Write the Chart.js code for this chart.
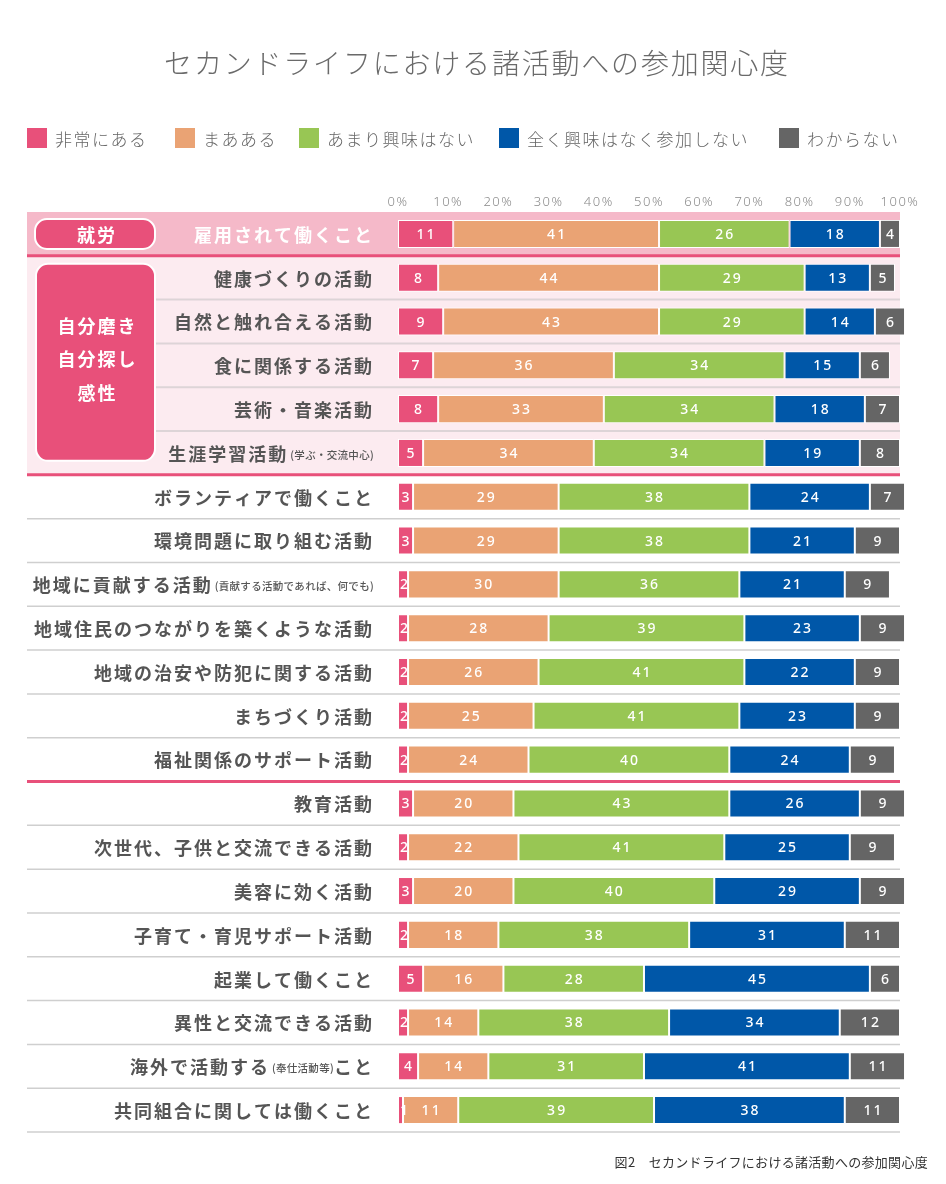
<!DOCTYPE html>
<html><head><meta charset="utf-8">
<script src="https://cdn.jsdelivr.net/npm/chart.js@4.4.1/dist/chart.umd.min.js"></script>
<style>
html,body{margin:0;padding:0;background:#fff;}
#wrap{position:relative;width:946px;height:1184px;overflow:hidden;font-family:"Noto Sans CJK JP","Noto Sans",sans-serif;}
#title{position:absolute;left:4px;width:946px;top:40px;text-align:center;font-size:28px;font-weight:300;color:#6a6a6a;letter-spacing:1.8px;line-height:44px;white-space:nowrap;}
.lg{position:absolute;top:126px;height:24px;display:flex;align-items:center;font-size:17px;color:#666;letter-spacing:1.5px;font-weight:300;white-space:nowrap;}
.lg i{display:inline-block;width:20px;height:20px;margin-right:8px;flex:none;}
#cap{position:absolute;right:18px;top:1152px;font-size:13px;color:#333;letter-spacing:0.3px;white-space:nowrap;}
#cv{position:absolute;left:0;top:0;width:946px;height:1184px;}
</style></head><body>
<div id="wrap">
<div id="cv"><canvas id="c"></canvas></div>
<div id="title">セカンドライフにおける諸活動への参加関心度</div>
<div id="legend"></div>
<div id="cap">図2　セカンドライフにおける諸活動への参加関心度</div>
</div>
<script>
// ---- data ----
const categories = [
  '雇用されて働くこと',
  '健康づくりの活動',
  '自然と触れ合える活動',
  '食に関係する活動',
  '芸術・音楽活動',
  '生涯学習活動(学ぶ・交流中心)',
  'ボランティアで働くこと',
  '環境問題に取り組む活動',
  '地域に貢献する活動(貢献する活動であれば、何でも)',
  '地域住民のつながりを築くような活動',
  '地域の治安や防犯に関する活動',
  'まちづくり活動',
  '福祉関係のサポート活動',
  '教育活動',
  '次世代、子供と交流できる活動',
  '美容に効く活動',
  '子育て・育児サポート活動',
  '起業して働くこと',
  '異性と交流できる活動',
  '海外で活動する(奉仕活動等)こと',
  '共同組合に関しては働くこと'
];
const seriesNames = ['非常にある','まあある','あまり興味はない','全く興味はなく参加しない','わからない'];
const veryInterested = [11, 8, 9, 7, 8, 5, 3, 3, 2, 2, 2, 2, 2, 3, 2, 3, 2, 5, 2, 4, 1];
const somewhat       = [41,44,43,36,33,34,29,29,30,28,26,25,24,20,22,20,18,16,14,14,11];
const notMuch        = [26,29,29,34,34,34,38,38,36,39,41,41,40,43,41,40,38,28,38,31,39];
const notAtAll       = [18,13,14,15,18,19,24,21,21,23,22,23,24,26,25,29,31,45,34,41,38];
const dontKnow       = [ 4, 5, 6, 6, 7, 8, 7, 9, 9, 9, 9, 9, 9, 9, 9, 9,11, 6,12,11,11];
const groupLabels = [['就労'], ['自分磨き','自分探し','感性']];

// ---- style ----
const colors = ['#E8507A','#EAA374','#98C654','#0057A8','#656565'];
const legendLefts = [27,175,299,499,779];
const PINK = '#E8507A';

const lg = document.getElementById('legend');
seriesNames.forEach((n,i)=>{
  const d = document.createElement('div');
  d.className='lg'; d.style.left = legendLefts[i]+'px';
  d.innerHTML = '<i style="background:'+colors[i]+'"></i><span></span>';
  d.querySelector('span').textContent = n;
  lg.appendChild(d);
});

const seriesData = [veryInterested, somewhat, notMuch, notAtAll, dontKnow];

function rowInfo(chart){
  const y = chart.scales.y;
  const c0 = y.getPixelForValue(0), c1 = y.getPixelForValue(1);
  const h = c1 - c0;
  return {h, center:i=>y.getPixelForValue(i), top:i=>y.getPixelForValue(i)-h/2};
}
function hline(ctx,x1,x2,y,color,w){
  ctx.beginPath(); ctx.strokeStyle=color; ctx.lineWidth=w;
  ctx.moveTo(x1,y); ctx.lineTo(x2,y); ctx.stroke();
}
const L = 27, R = 900;

const bgPlugin = {
  id:'bg',
  beforeDraw(chart){
    const ctx = chart.ctx, r = rowInfo(chart);
    ctx.save();
    ctx.fillStyle = '#F5B9C9';
    ctx.fillRect(L, r.top(0), R-L, r.h);
    ctx.fillStyle = '#FCEBF0';
    ctx.fillRect(L, r.top(1), R-L, r.h*5);
    for(let i=2;i<=5;i++) hline(ctx,155,R,r.top(i),'#DDD4D7',2);
    for(let i=7;i<=12;i++) hline(ctx,L,R,r.top(i),'#CFCFCF',1.5);
    for(let i=14;i<=20;i++) hline(ctx,L,R,r.top(i),'#CFCFCF',1.5);
    hline(ctx,L,R,r.top(20)+r.h,'#CFCFCF',1.5);
    [1,6,13].forEach(i=>hline(ctx,L,R,r.top(i),PINK,3));
    ctx.restore();
    ctx.letterSpacing = '1.5px';
  }
};

function drawLabel(ctx, text, xRight, y, color){
  const parts = text.split(/(\([^)]*\))/).filter(s=>s.length);
  let x = xRight;
  ctx.fillStyle = color;
  ctx.textBaseline = 'middle';
  ctx.textAlign = 'left';
  for(let k=parts.length-1;k>=0;k--){
    const p = parts[k];
    const small = p.startsWith('(');
    ctx.font = small ? '500 10.5px "Noto Sans CJK JP"' : 'bold 18px "Noto Sans CJK JP"';
    ctx.letterSpacing = small ? '0.3px' : '2px';
    const w = ctx.measureText(p).width;
    x -= w;
    ctx.fillText(p, x, small ? y+1 : y);
    if(small) x -= 2;
  }
}

const fgPlugin = {
  id:'fg',
  afterDatasetsDraw(chart){
    const ctx = chart.ctx, r = rowInfo(chart);
    ctx.save();
    // value labels
    ctx.fillStyle = '#fff';
    ctx.font = '500 14px "Noto Sans", "DejaVu Sans", sans-serif';
    ctx.letterSpacing = '2px';
    ctx.textBaseline = 'middle';
    ctx.textAlign = 'left';
    chart.data.datasets.forEach((ds,di)=>{
      chart.getDatasetMeta(di).data.forEach((bar,j)=>{
        const p = bar.getProps(['x','base','y'],true);
        const t = String(ds.data[j]);
        const w = ctx.measureText(t).width - 2;
        const cx = (p.x + p.base)/2;
        const segW = Math.abs(p.x - p.base);
        const tx = (w + 4 > segW) ? Math.min(p.x, p.base) + 2 : cx - w/2;
        ctx.fillText(t, tx, p.y+1);
      });
    });
    // category labels
    categories.forEach((c,i)=>drawLabel(ctx, c, 374, r.center(i)+1, i===0 ? '#ffffff' : '#555555'));
    // group boxes
    ctx.letterSpacing = '2px';
    const boxes = [
      {x:35, y:r.center(0)-15, w:120, h:30, rad:12, lines:groupLabels[0], off:0},
      {x:36, y:r.top(1)+8, w:119, h:r.h*5-22, rad:12, lines:groupLabels[1], off:-4}
    ];
    boxes.forEach(b=>{
      ctx.beginPath();
      ctx.roundRect(b.x,b.y,b.w,b.h,b.rad);
      ctx.fillStyle = PINK; ctx.fill();
      ctx.lineWidth = 2; ctx.strokeStyle = '#fff'; ctx.stroke();
      ctx.fillStyle = '#fff';
      ctx.font = 'bold 18px "Noto Sans CJK JP"';
      ctx.textAlign='left';
      const n = b.lines.length, lh = 33.5;
      const cy = b.y + b.h/2 + b.off;
      b.lines.forEach((t,k)=>{
        const w = ctx.measureText(t).width - 2;
        ctx.fillText(t, b.x + b.w/2 - w/2 + 1, cy + (k-(n-1)/2)*lh + 1);
      });
    });
    ctx.restore();
  }
};

new Chart(document.getElementById('c'), {
  type:'bar',
  data:{
    labels: categories,
    datasets: seriesNames.map((n,i)=>({
      label:n, data:seriesData[i], backgroundColor:colors[i],
      borderColor:'#ffffff', borderWidth:1, borderSkipped:false,
      barPercentage:0.64, categoryPercentage:1.0, clip:false
    }))
  },
  options:{
    indexAxis:'y', responsive:true, maintainAspectRatio:false, animation:false,
    layout:{padding:{left:398, right:46, top:192, bottom:52}},
    plugins:{legend:{display:false}, tooltip:{enabled:false}},
    scales:{
      x:{stacked:true, min:0, max:100, position:'top',
        grid:{display:false, drawTicks:false}, border:{display:false},
        afterFit:s=>{s.height=20;},
        ticks:{stepSize:10, autoSkip:false, maxRotation:0, padding:2,
          color:'#8a8a8a', font:{family:'"Noto Sans", sans-serif', size:13, weight:300},
          callback:v=>v+'%'}},
      y:{stacked:true, display:false}
    }
  },
  plugins:[bgPlugin, fgPlugin]
});
</script>
</body></html>
